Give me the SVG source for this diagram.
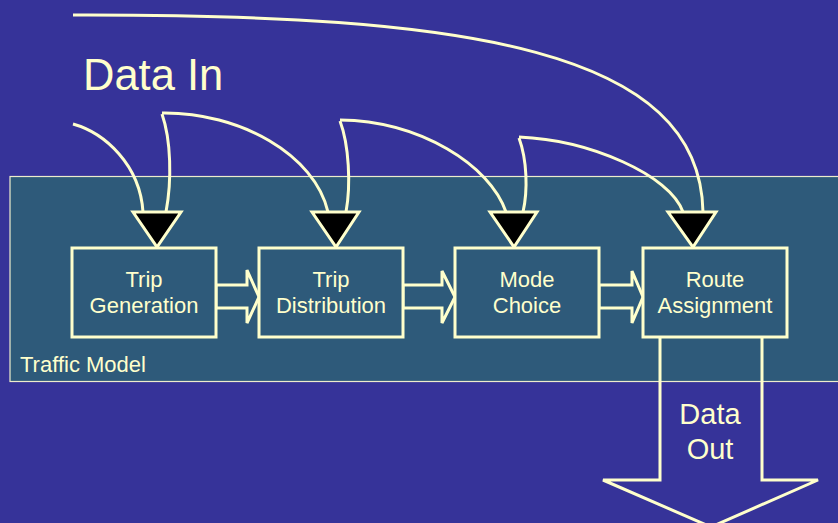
<svg xmlns="http://www.w3.org/2000/svg" width="838" height="523" viewBox="0 0 838 523">
  <style>
    .bg { fill: #363399; }
    .frame { fill: #2E5A7A; stroke: #EDEDCC; stroke-width: 1.2; }
    .box { fill: #2E5A7A; stroke: #FFFFCC; stroke-width: 3; }
    .flow { fill: #2E5A7A; stroke: #FFFFCC; stroke-width: 3; stroke-linejoin: miter; }
    .wire { fill: none; stroke: #FFFFCC; stroke-width: 3; stroke-linecap: butt; }
    .tri { fill: #000000; stroke: #FFFFCC; stroke-width: 3; stroke-linejoin: miter; }
    .out { fill: none; stroke: #FFFFCC; stroke-width: 3; }
    text { font-family: "Liberation Sans", Arial, sans-serif; fill: #FFFFCC; }
    .lbl { font-size: 22px; text-anchor: middle; }
  </style>

  <rect class="bg" x="0" y="0" width="838" height="523"/>

  <!-- model frame -->
  <g id="traffic-model">
    <rect class="frame" x="10" y="176.5" width="840" height="205"/>
    <text x="20" y="372" font-size="22">Traffic Model</text>
  </g>

  <!-- input label -->
  <g id="data-in">
    <text x="83" y="90" font-size="43.5">Data In</text>
  </g>

  <!-- connectors -->
  <g id="connectors">
    <!-- input feeds -->
    <path class="wire" d="M73,124 C105,133 140,165 143,212"/>
    <path class="wire" d="M73,15 C470,14 700,50 703,212"/>
    <path class="wire" d="M162,114 C171,140 172,180 166,212"/>
    <path class="wire" d="M162,113 C240,112 315,155 328,212"/>
    <path class="wire" d="M340,121 C349,145 351,185 346,212"/>
    <path class="wire" d="M340,120 C420,121 490,165 506,212"/>
    <path class="wire" d="M519,138 C527,160 528,190 523,212"/>
    <path class="wire" d="M519,137 C590,140 670,175 683,212"/>

    <!-- input heads -->
    <polygon class="tri" points="133,212 181,212 157,247"/>
    <polygon class="tri" points="312,212 359,212 336,247"/>
    <polygon class="tri" points="490,212 537,212 514,247"/>
    <polygon class="tri" points="668,212 716,212 693,247"/>

    <!-- stage-to-stage block arrows -->
    <polygon class="flow" points="216,285 247,285 247,270 259,297 247,323 247,308 216,308"/>
    <polygon class="flow" points="403,285 442,285 442,271 455,297 442,323 442,308 403,308"/>
    <polygon class="flow" points="599,285 632,285 632,271 643,297 632,323 632,308 599,308"/>

    <!-- output arrow -->
    <path class="out" d="M660,337 V480 H603 L711,527 L818,480 H762 V337"/>
  </g>

  <!-- stages -->
  <g id="trip-generation">
    <rect class="box" x="72" y="248" width="144" height="89"/>
    <text class="lbl" x="144" y="287">Trip</text>
    <text class="lbl" x="144" y="313">Generation</text>
  </g>
  <g id="trip-distribution">
    <rect class="box" x="259" y="248" width="144" height="89"/>
    <text class="lbl" x="331" y="287">Trip</text>
    <text class="lbl" x="331" y="313">Distribution</text>
  </g>
  <g id="mode-choice">
    <rect class="box" x="455" y="248" width="144" height="89"/>
    <text class="lbl" x="527" y="287">Mode</text>
    <text class="lbl" x="527" y="313">Choice</text>
  </g>
  <g id="route-assignment">
    <rect class="box" x="643" y="248" width="144" height="89"/>
    <text class="lbl" x="715" y="287">Route</text>
    <text class="lbl" x="715" y="313">Assignment</text>
  </g>

  <!-- output label -->
  <g id="data-out">
    <text x="710" y="424" font-size="29" text-anchor="middle">Data</text>
    <text x="710" y="459" font-size="29" text-anchor="middle">Out</text>
  </g>
</svg>
